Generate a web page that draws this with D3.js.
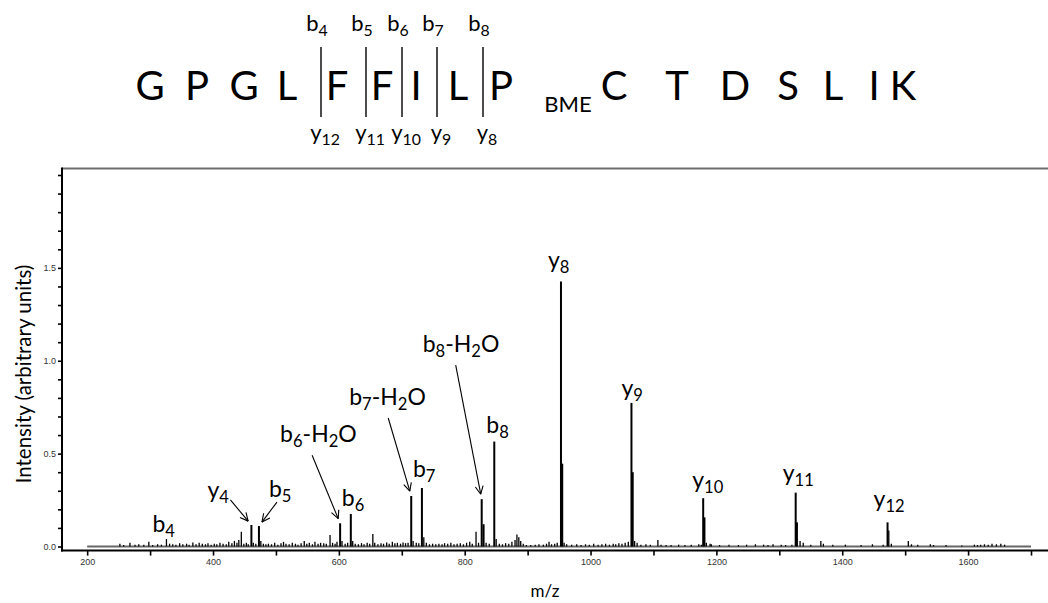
<!DOCTYPE html>
<html><head><meta charset="utf-8">
<script src="https://cdn.jsdelivr.net/npm/d3@7"></script>
<style>body{margin:0;background:#fff}svg{display:block}</style>
</head><body>
<svg id="chart" width="1048" height="603"></svg>
<script>
// ---------------- DATA ----------------
const mzValues = [
 252,258,268,276,282,290,298,304,312,318,326,331,336,341,347,352,358,362,368,373,
 378,383,388,392,397,402,406,411,416,421,425,430,434,438,441,445,449,453,456,461,
 464,468,473,476,480,484,488,493,498,503,508,512,516,521,526,531,535,540,545,549,
 553,558,562,567,571,576,580,586,590,594,597,602,605,610,614,619,622,626,631,636,
 640,645,649,654,657,662,667,671,676,680,685,689,693,698,702,706,710,715,718,723,
 727,732,735,739,744,749,754,759,764,768,773,778,783,788,793,798,803,808,812,818,
 822,827,830,834,839,847,850,855,860,865,870,875,880,883,886,889,893,898,905,912,
 918,925,930,934,938,943,947,953,955,958,962,970,978,985,992,998,1005,1012,1018,1024,
 1030,1036,1040,1045,1050,1055,1060,1065,1067,1070,1074,1080,1088,1095,1107,1112,1120,1128,1140,1150,
 1160,1172,1176,1179,1181,1184,1190,1192,1205,1220,1235,1248,1262,1275,1282,1290,1303,1310,1320,1326,
 1328,1333,1338,1350,1366,1370,1385,1405,1430,1448,1465,1472,1474,1478,1505,1510,1520,1540,1545,1565,
 1590,1610,1615,1620,1626,1632,1638,1645,1652,1658
];
const intensityValues = [
 .015,.008,.02,.01,.012,.01,.025,.008,.012,.01,.04,.015,.012,.01,.018,.012,.015,.01,.022,.012,
 .02,.015,.012,.018,.01,.015,.012,.02,.015,.012,.025,.018,.03,.02,.035,.08,.015,.02,.012,.116,
 .02,.015,.11,.03,.015,.012,.015,.012,.02,.01,.018,.025,.015,.012,.02,.015,.01,.018,.03,.015,
 .02,.012,.025,.015,.02,.018,.015,.062,.02,.015,.025,.125,.03,.015,.02,.175,.03,.015,.012,.018,
 .012,.02,.015,.067,.02,.012,.018,.015,.022,.015,.025,.018,.02,.015,.022,.018,.02,.272,.03,.02,
 .018,.315,.05,.02,.012,.015,.012,.015,.012,.018,.015,.02,.012,.015,.018,.012,.02,.025,.015,.08,
 .02,.255,.12,.02,.015,.565,.04,.015,.012,.018,.015,.025,.035,.065,.05,.03,.015,.008,.008,.01,
 .012,.01,.015,.025,.012,.015,.02,1.427,.446,.02,.012,.01,.012,.008,.012,.01,.015,.01,.012,.015,
 .01,.015,.012,.018,.015,.02,.025,.773,.4,.03,.02,.01,.012,.01,.035,.01,.008,.008,.01,.008,
 .01,.012,.01,.26,.157,.02,.015,.012,.008,.01,.008,.01,.012,.01,.008,.012,.01,.008,.01,.29,
 .13,.03,.02,.01,.03,.015,.01,.01,.008,.012,.01,.13,.086,.015,.03,.012,.01,.012,.008,.008,
 .006,.01,.008,.01,.012,.01,.015,.012,.015,.01
];
const yTickValues = [0,.1,.2,.3,.4,.5,.6,.7,.8,.9,1,1.1,1.2,1.3,1.4,1.5,1.6,1.7,1.8,1.9,2];
const yTickLabels = ["0.0","0.5","1.0","1.5"];
const xTickValues = [200,300,400,500,600,700,800,900,1000,1100,1200,1300,1400,1500,1600,1700];
const xTickLabels = ["200","400","600","800","1000","1200","1400","1600"];

// Annotated ions: label parts [text, isSub]
const annIds   = ["b4","y4","b5","b6w","b6","b7w","b7","b8w","b8","y8","y9","y10","y11","y12"];
const annMz    = [326,461,473,602,619,715,732,827,847,953,1065,1179,1326,1472];
const annParts = [
 [["b",0],["4",1]], [["y",0],["4",1]], [["b",0],["5",1]],
 [["b",0],["6",1],["-H",0],["2",1],["O",0]], [["b",0],["6",1]],
 [["b",0],["7",1],["-H",0],["2",1],["O",0]], [["b",0],["7",1]],
 [["b",0],["8",1],["-H",0],["2",1],["O",0]], [["b",0],["8",1]],
 [["y",0],["8",1]], [["y",0],["9",1]], [["y",0],["10",1]], [["y",0],["11",1]], [["y",0],["12",1]]
];

// Peptide sequence header
const residues = ["G","P","G","L","F","F","I","L","P","C","T","D","S","L","I","K"];
const modLabel = "BME";
const bIons = ["4","5","6","7","8"];
const yIons = ["12","11","10","9","8"];

// ---------------- LAYOUT ----------------
const svg = d3.select("#chart");
const x = d3.scaleLinear().domain([160, 1727]).range([62, 1048]);
const y = d3.scaleLinear().domain([0, 2]).range([546.5, 175]);
const labelFont = "Lato, 'Open Sans', sans-serif";

// frame
const frameTop = y(2.035), frameBottom = y(-0.022);
svg.append("line").attr("x1", x(160)).attr("x2", 1048).attr("y1", frameTop).attr("y2", frameTop)
  .attr("stroke", "#6e6e6e").attr("stroke-width", 2.2);

// baseline
svg.append("line").attr("x1", x(200)).attr("x2", x(1700)).attr("y1", y(0)).attr("y2", y(0))
  .attr("stroke", "#666").attr("stroke-width", 2);

// peaks
const peaks = mzValues.map((m, i) => ({mz: m, v: intensityValues[i]}));
svg.append("g").selectAll("line").data(peaks).join("line")
  .attr("x1", d => x(d.mz)).attr("x2", d => x(d.mz))
  .attr("y1", y(0)).attr("y2", d => y(d.v))
  .attr("stroke", "#000")
  .attr("stroke-width", d => d.v > 0.1 ? 2 : 1.3);

// y axis
const yAxis = svg.append("g").attr("transform", `translate(${x(160)},0)`)
  .call(d3.axisLeft(y).tickValues(yTickValues).tickSize(4).tickPadding(2)
    .tickFormat(d => { const s = d3.format(".1f")(d); return yTickLabels.includes(s) ? s : ""; }));
yAxis.select(".domain").remove();
yAxis.selectAll(".tick text").filter(function () { return this.textContent === ""; }).remove();
yAxis.selectAll(".tick line").attr("stroke", "#000").attr("stroke-width", 1.6);
yAxis.selectAll(".tick text").attr("font-family", "'Liberation Sans', Arial, sans-serif")
  .attr("font-size", 9).attr("fill", "#333");
svg.append("line").attr("x1", x(160)).attr("x2", x(160)).attr("y1", frameTop - 1).attr("y2", frameBottom + 1)
  .attr("stroke", "#000").attr("stroke-width", 2);

// x axis
const xAxis = svg.append("g").attr("transform", `translate(0,${frameBottom})`)
  .call(d3.axisBottom(x).tickValues(xTickValues).tickSize(5).tickPadding(3)
    .tickFormat(d => xTickLabels.includes(String(d)) ? String(d) : ""));
xAxis.select(".domain").remove();
xAxis.selectAll(".tick text").filter(function () { return this.textContent === ""; }).remove();
xAxis.selectAll(".tick line").attr("stroke", "#000").attr("stroke-width", 1.6);
xAxis.selectAll(".tick text").attr("font-family", "'Liberation Sans Narrow', 'Arial Narrow', 'Liberation Sans', sans-serif")
  .attr("font-size", 9).attr("fill", "#333");
svg.append("line").attr("x1", x(160) - 1).attr("x2", 1048).attr("y1", frameBottom).attr("y2", frameBottom)
  .attr("stroke", "#000").attr("stroke-width", 2);

// axis titles
svg.append("text").attr("transform", `translate(31,374) rotate(-90)`)
  .attr("text-anchor", "middle").attr("font-family", labelFont).attr("font-size", 20.5)
  .text("Intensity (arbitrary units)");
svg.append("text").attr("x", 545).attr("y", 597).attr("text-anchor", "middle")
  .attr("font-family", labelFont).attr("font-size", 17).text("m/z");

// annotation layout: label start/baseline offset from peak top; optional arrow start offset
const annLayout = {
  b4:  {dx: -14, dy: -7},
  y4:  {dx: -44, dy: -27, ax: -21, ay: -25},
  b5:  {dx: 10,  dy: -29, ax: 18,  ay: -24},
  b6w: {dx: -60, dy: -81, ax: -28, ay: -68},
  b6:  {dx: -9,  dy: -8},
  b7w: {dx: -62, dy: -91, ax: -23, ay: -78},
  b7:  {dx: -9,  dy: -11},
  b8w: {dx: -59, dy: -147, ax: -26, ay: -134},
  b8:  {dx: -8,  dy: -9},
  y8:  {dx: -13, dy: -13},
  y9:  {dx: -10, dy: -7},
  y10: {dx: -11, dy: -10},
  y11: {dx: -13, dy: -12},
  y12: {dx: -14, dy: -15}
};

function richText(sel, parts, size) {
  const off = size * 0.22;
  let prevSub = false;
  parts.forEach(([t, sub]) => {
    const dy = (sub ? off : 0) - (prevSub ? off : 0);
    sel.append("tspan").attr("font-size", sub ? size * 0.72 : size)
      .attr("dy", dy).text(t);
    prevSub = !!sub;
  });
}

const annG = svg.append("g");
annIds.forEach((id, i) => {
  const m = annMz[i];
  const v = peaks.find(p => p.mz === m).v;
  const px = x(m), py = y(v);
  const L = annLayout[id];
  const t = annG.append("text").attr("x", px + L.dx).attr("y", py + L.dy)
    .attr("font-family", labelFont).attr("font-size", 23).attr("fill", "#000");
  richText(t, annParts[i], 23);
  if (L.ax !== undefined) {
    const sx = px + L.ax, sy = py + L.ay;
    const ang = Math.atan2(py - sy, px - sx);
    const len = Math.hypot(px - sx, py - sy) - 5;
    const ex = sx + len * Math.cos(ang), ey = sy + len * Math.sin(ang);
    annG.append("line").attr("x1", sx).attr("y1", sy).attr("x2", ex).attr("y2", ey)
      .attr("stroke", "#000").attr("stroke-width", 1.1);
    [0.45, -0.45].forEach(a => {
      annG.append("line").attr("x1", ex).attr("y1", ey)
        .attr("x2", ex - 9 * Math.cos(ang + a)).attr("y2", ey - 9 * Math.sin(ang + a))
        .attr("stroke", "#000").attr("stroke-width", 1.1);
    });
  }
});

// peptide header
const resX = [150,197,244,287,337,382,416,458,501,614,677,735,788,833,874,903];
const cutX = [321,366,402,437,483];
const seqBase = 100;
const hg = svg.append("g").attr("font-family", labelFont).attr("fill", "#000");
residues.forEach((r, i) => {
  hg.append("text").attr("x", resX[i]).attr("y", seqBase).attr("text-anchor", "middle")
    .attr("font-size", 40).text(r);
});
hg.append("text").attr("x", 568).attr("y", seqBase + 12).attr("text-anchor", "middle")
  .attr("font-size", 22).text(modLabel);
cutX.forEach((cx, i) => {
  hg.append("line").attr("x1", cx).attr("x2", cx).attr("y1", 47).attr("y2", 117)
    .attr("stroke", "#000").attr("stroke-width", 1.4);
  const bt = hg.append("text").attr("x", cx - 4).attr("y", 31).attr("text-anchor", "middle").attr("font-size", 22);
  richText(bt, [["b",0],[bIons[i],1]], 22);
  const yt = hg.append("text").attr("x", cx + 4).attr("y", 140).attr("text-anchor", "middle").attr("font-size", 22);
  richText(yt, [["y",0],[yIons[i],1]], 22);
});
</script>
</body></html>
